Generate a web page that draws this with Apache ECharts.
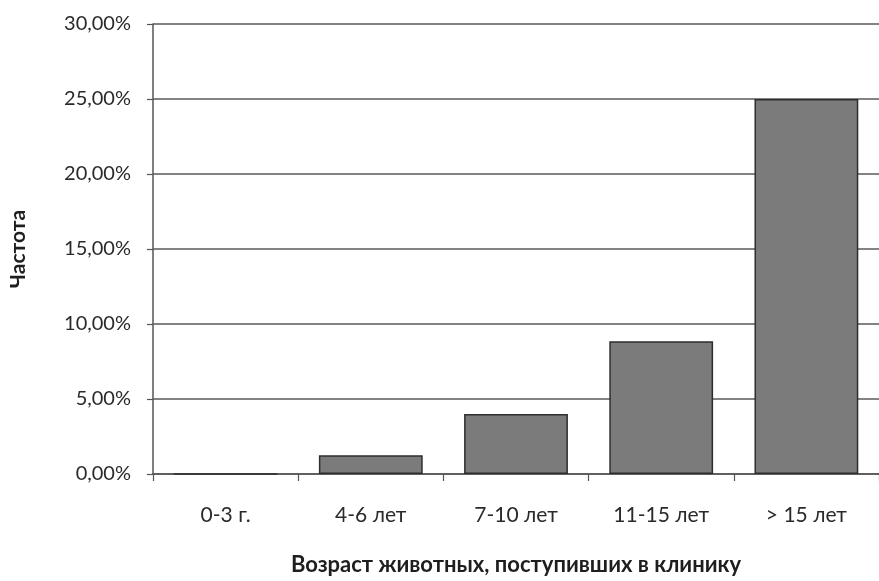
<!DOCTYPE html>
<html>
<head>
<meta charset="utf-8">
<script src="https://cdn.jsdelivr.net/npm/echarts@6/dist/echarts.min.js"></script>
<style>
html,body{margin:0;padding:0;background:#fff;}
#chart{width:879px;height:581px;}
</style>
</head>
<body>
<div id="chart"></div>
<script>
var categories = ['0-3 г.', '4-6 лет', '7-10 лет', '11-15 лет', '> 15 лет'];
var frequency = [0, 1.25, 4.0, 8.85, 25.0];
var xAxisTitle = 'Возраст животных, поступивших в клинику';
var yAxisTitle = 'Частота';

var chart = echarts.init(document.getElementById('chart'), null, {renderer: 'canvas'});
var font = 'Lato, "Open Sans", sans-serif';
chart.setOption({
  animation: false,
  backgroundColor: '#ffffff',
  grid: {left: 150, top: 24, width: 735, height: 454, containLabel: false},
  xAxis: {
    type: 'category',
    data: categories,
    name: xAxisTitle,
    nameLocation: 'middle',
    nameGap: 80,
    nameTextStyle: {fontFamily: font, fontSize: 22, fontWeight: 'bold', color: '#1e1e1e'},
    axisLine: {lineStyle: {color: '#555', width: 1.5}},
    axisTick: {show: true, length: 7, lineStyle: {color: '#555', width: 1.2}},
    axisLabel: {fontFamily: font, fontSize: 21, color: '#2a2a2a', margin: 31},
    splitLine: {show: false}
  },
  yAxis: {
    type: 'value',
    min: 0,
    max: 30,
    interval: 5,
    name: yAxisTitle,
    nameLocation: 'middle',
    nameGap: 124,
    nameRotate: 90,
    nameTextStyle: {fontFamily: font, fontSize: 21, fontWeight: 'bold', color: '#1e1e1e'},
    axisLine: {show: true, lineStyle: {color: '#555', width: 1.5}},
    axisTick: {show: true, length: 6, lineStyle: {color: '#555', width: 1.2}},
    axisLabel: {
      fontFamily: font, fontSize: 20, color: '#2a2a2a', margin: 22,
      formatter: function (v) { return v.toFixed(2).replace('.', ',') + '%'; }
    },
    splitLine: {show: true, lineStyle: {color: '#5a5a5a', width: 1.5}}
  },
  series: [{
    type: 'bar',
    data: frequency,
    barWidth: '71.5%',
    itemStyle: {color: '#7b7b7b', borderColor: '#2e2e2e', borderWidth: 1.5}
  }]
});
</script>
</body>
</html>
